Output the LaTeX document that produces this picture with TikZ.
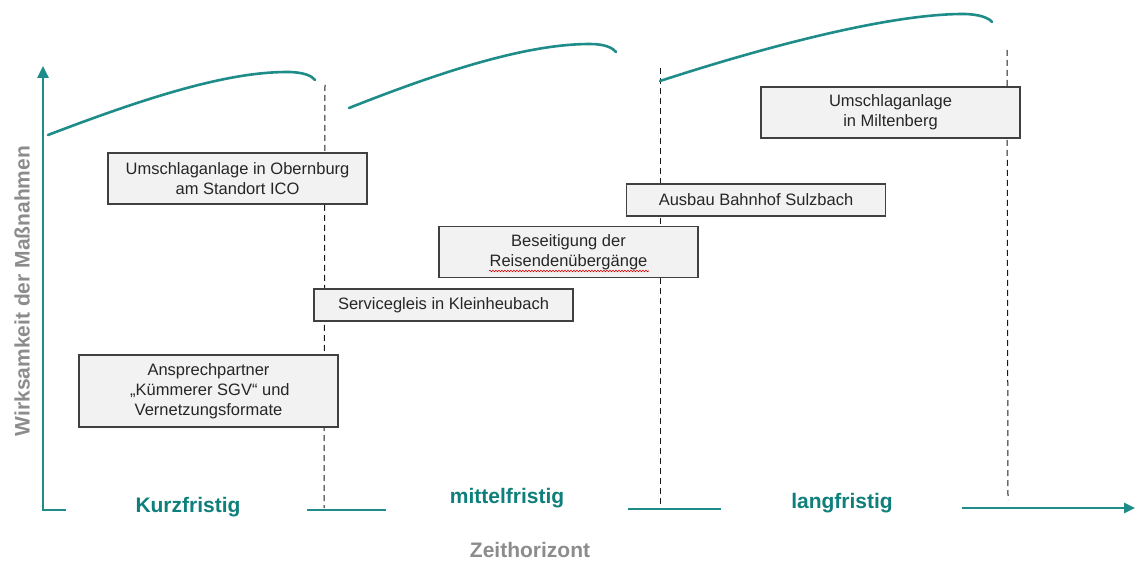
\documentclass[tikz,border=0pt]{standalone}
\usepackage{fontspec}
\setmainfont{Liberation Sans}
\usetikzlibrary{arrows.meta,decorations.pathmorphing}
\definecolor{teal1}{HTML}{1E8C88}
\definecolor{tealtxt}{HTML}{0E7F7A}
\definecolor{grtxt}{HTML}{8C8C8C}
\definecolor{boxfill}{HTML}{F2F2F2}
\definecolor{boxdraw}{HTML}{404040}
\definecolor{txt}{HTML}{262626}
\tikzset{
  mbox/.style={draw=boxdraw, fill=boxfill, line width=1.2pt, inner sep=0pt, minimum width=259pt, align=center, text=txt, font=\fontsize{16.5}{20}\selectfont},
  axisline/.style={draw=teal1, line width=2.6pt},
  curveline/.style={draw=teal1, line width=2.6pt, line cap=round},
  divline/.style={draw=black!90, line width=1pt, dash pattern=on 6pt off 4pt},
  phase/.style={text=tealtxt, font=\fontsize{21}{24}\selectfont\bfseries},
  axislabel/.style={text=grtxt, font=\fontsize{21}{24}\selectfont\bfseries}
}
\begin{document}
\begin{tikzpicture}[x=1pt,y=-1pt]
\useasboundingbox (0,0) rectangle (1135,561);
% axes
\coordinate (ytop) at (43,66);
\coordinate (corner) at (43,510);
\coordinate (x0e) at (66,510);
\coordinate (x1s) at (307,510); \coordinate (x1e) at (386,510);
\coordinate (x2s) at (628,509); \coordinate (x2e) at (721,509);
\coordinate (x3s) at (962,508); \coordinate (x3e) at (1135,508);
\draw[axisline, -{Triangle[length=12pt,width=11pt]}] (x0e) -- (corner) -- (ytop);
\draw[axisline] (x1s) -- (x1e);
\draw[axisline] (x2s) -- (x2e);
\draw[axisline, -{Triangle[length=11pt,width=10pt]}] (x3s) -- (x3e);
% dashed dividers
\coordinate (d1t) at (325,85); \coordinate (d1b) at (324,508);
\coordinate (d2t) at (660,68); \coordinate (d2b) at (660,507);
\coordinate (d3t) at (1007,50); \coordinate (d3b) at (1008,500);
\draw[divline] (d1t) -- (d1b);
\draw[divline] (d2t) -- (d2b);
\draw[divline] (d3t) -- (d3b);
% curves
\draw[curveline] (48,135) .. controls (150,96) and (228,72) .. (287,72) .. controls (304,72) and (312,76) .. (315,80);
\draw[curveline] (349,108) .. controls (450,68) and (530,44) .. (590,44) .. controls (605,44) and (613,48) .. (616,52);
\draw[curveline] (660,81) .. controls (780,42) and (895,14) .. (963,14) .. controls (979,14) and (989,18) .. (992,22);
% boxes
\node[mbox, minimum height=51pt] (obern) at (237.5,178.5) {Umschlaganlage in Obernburg\\am Standort ICO};
\node[mbox, minimum height=32pt] (service) at (443.5,305) {Servicegleis in Kleinheubach};
\node[mbox, minimum height=72pt] (kuemm) at (208.5,391) {Ansprechpartner\\\,„Kümmerer SGV“ und\\Vernetzungsformate};
\node[mbox, minimum height=51pt] (beseit) at (568.5,252) {Beseitigung der\\Reisendenübergänge};
\node[mbox, minimum height=32pt] (sulz) at (756,200) {Ausbau Bahnhof Sulzbach};
\node[mbox, minimum height=51pt] (milt) at (890.5,112.5) {Umschlaganlage\\in Miltenberg};
\draw[red!85!black, line width=0.6pt, decorate, decoration={snake, amplitude=0.8pt, segment length=3pt}] (489,271) -- (649,271);
% labels
\node[phase] (kurz) at (188,507) {Kurzfristig};
\node[phase] (mittel) at (507,498) {mittelfristig};
\node[phase] (lang) at (842,503) {langfristig};
\node[axislabel] (zeit) at (530,550) {Zeithorizont};
\node[axislabel, rotate=90] (wirk) at (22,291) {Wirksamkeit der Maßnahmen};
\end{tikzpicture}
\end{document}
